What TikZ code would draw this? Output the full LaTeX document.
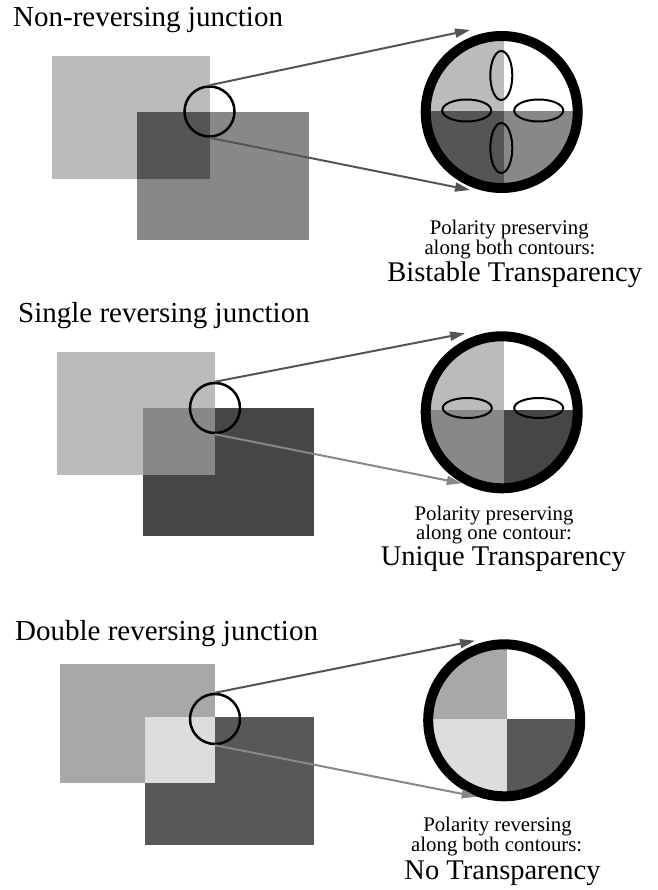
\documentclass[tikz,border=0pt]{standalone}
\usepackage{fontspec}
\setmainfont{Liberation Serif}
\usetikzlibrary{arrows.meta}
\definecolor{gL}{HTML}{BBBBBB}
\definecolor{gM}{HTML}{888888}
\definecolor{gD}{HTML}{555555}
\definecolor{gDD}{HTML}{464646}
\definecolor{gP}{HTML}{A8A8A8}
\definecolor{gW}{HTML}{DDDDDD}
\definecolor{gQ}{HTML}{585858}
\definecolor{lineDark}{HTML}{555555}
\definecolor{lineLight}{HTML}{888888}
\tikzset{
  title/.style={anchor=base west, inner sep=0pt, font=\fontsize{29}{29}\selectfont},
  note/.style={anchor=base, inner sep=0pt, font=\fontsize{20.8}{20.8}\selectfont},
  result/.style={anchor=base, inner sep=0pt, font=\fontsize{28.5}{28.5}\selectfont},
  lens/.style={circle, draw=black, line width=2.5pt, minimum size=50pt, inner sep=0pt},
  bigring/.style={circle, draw=black, line width=10pt, minimum size=152pt, inner sep=0pt},
  conn/.style={line width=2pt, -{Triangle[length=15pt,width=9pt]}},
  oval/.style={draw=black, line width=2pt},
}
\begin{document}
\begin{tikzpicture}[x=1pt,y=-1pt]
\useasboundingbox (0,0) rectangle (657,890);

% ================= Panel 1 =================
\node[title] (t1) at (13,26.5) {Non-reversing junction};
\fill[gL] (51.7,56) rectangle (210,179);
\fill[gM] (136.7,112) rectangle (309.3,240);
\fill[gD] (136.7,112) rectangle (210,179);
\node[lens] (lens1) at (209.5,111.5) {};
\begin{scope}
  \clip (501.7,112) circle (76);
  \fill[gL] (404,10) rectangle (504,110.7);
  \fill[white] (504,10) rectangle (604,110.7);
  \fill[gD] (404,110.7) rectangle (504,210);
  \fill[gM] (504,110.7) rectangle (604,210);
\end{scope}
\draw[oval] (501.3,75.5) ellipse [x radius=11, y radius=24.5];
\draw[oval] (501.3,148) ellipse [x radius=11, y radius=25];
\draw[oval] (466.7,110.5) ellipse [x radius=24.5, y radius=11];
\draw[oval] (538.7,110.5) ellipse [x radius=24.5, y radius=11];
\node[bigring] (big1) at (501.7,112) {};
\coordinate (tip1a) at (470,30);
\coordinate (tip1b) at (470,190);
\draw[conn, lineDark] (lens1.north) -- (tip1a);
\draw[conn, lineDark] (lens1.south) -- (tip1b);
\node[note] (n1a) at (509.2,234.5) {Polarity preserving};
\node[note] (n1b) at (510,254.3) {along both contours:};
\node[result] (r1) at (514.7,281.7) {Bistable Transparency};

% ================= Panel 2 =================
\node[title] (t2) at (18,322.7) {Single reversing junction};
\fill[gL] (57.3,351.7) rectangle (215,475);
\fill[gDD] (142.7,407.7) rectangle (314,536);
\fill[gM] (142.7,407.7) rectangle (215,475);
\node[lens] (lens2) at (215,408) {};
\begin{scope}
  \clip (501.7,412.3) circle (76);
  \fill[gL] (404,310) rectangle (504,410);
  \fill[white] (504,310) rectangle (604,410);
  \fill[gM] (404,410) rectangle (504,510);
  \fill[gDD] (504,410) rectangle (604,510);
\end{scope}
\draw[oval] (467.3,408) ellipse [x radius=24.5, y radius=10];
\draw[oval] (538.7,408) ellipse [x radius=24.5, y radius=10];
\node[bigring] (big2) at (501.7,412.3) {};
\coordinate (tip2a) at (465,333.3);
\coordinate (tip2b) at (461.7,483.3);
\draw[conn, lineDark] (lens2.north) -- (tip2a);
\draw[conn, lineLight] (lens2.south) -- (tip2b);
\node[note] (n2a) at (494,520) {Polarity preserving};
\node[note] (n2b) at (494,539.5) {along one contour:};
\node[result] (r2) at (503.3,565.5) {Unique Transparency};

% ================= Panel 3 =================
\node[title] (t3) at (15,640.5) {Double reversing junction};
\fill[gP] (60,664) rectangle (215,783.3);
\fill[gQ] (145,716.7) rectangle (314,845);
\fill[gW] (145,716.7) rectangle (215,783.3);
\node[lens] (lens3) at (215,719) {};
\begin{scope}
  \clip (504.2,720.3) circle (76);
  \fill[gP] (406,620) rectangle (506.7,719.3);
  \fill[white] (506.7,620) rectangle (606,719.3);
  \fill[gW] (406,719.3) rectangle (506.7,820);
  \fill[gQ] (506.7,719.3) rectangle (606,820);
\end{scope}
\node[bigring] (big3) at (504.2,720.3) {};
\coordinate (tip3a) at (475,640.7);
\coordinate (tip3b) at (476.7,796.7);
\draw[conn, lineDark] (lens3.north) -- (tip3a);
\draw[conn, lineLight] (lens3.south) -- (tip3b);
\node[note] (n3a) at (497.5,831.5) {Polarity reversing};
\node[note] (n3b) at (496.7,851) {along both contours:};
\node[result] (r3) at (502.5,879) {No Transparency};
\end{tikzpicture}
\end{document}
